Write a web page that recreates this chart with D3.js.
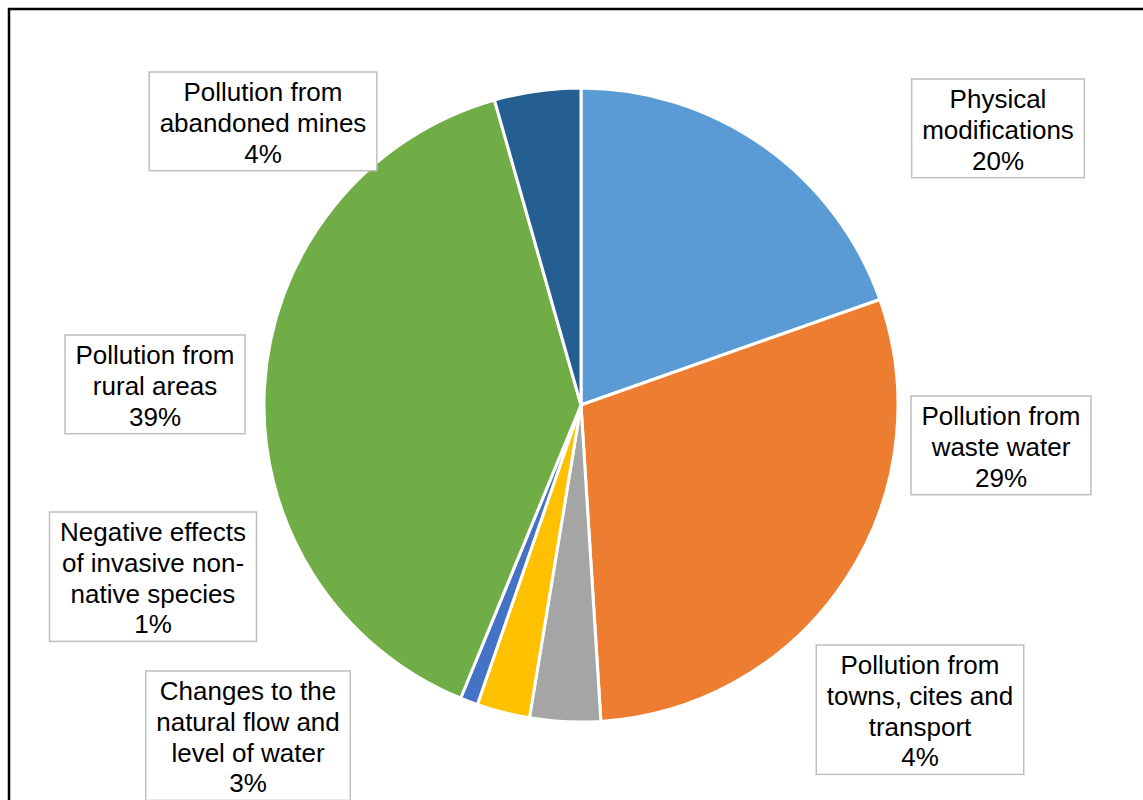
<!DOCTYPE html>
<html>
<head>
<meta charset="utf-8">
<script src="https://cdn.jsdelivr.net/npm/d3@7"></script>
<style>
  html, body { margin: 0; padding: 0; background: #fff; }
  svg { display: block; }
  text { font-family: "Liberation Sans", Arial, sans-serif; fill: #000; }
</style>
</head>
<body>
<script>
// Pressures on water bodies: share of each reason for not achieving good status
const categories = [
  "Physical modifications",
  "Pollution from waste water",
  "Pollution from towns, cites and transport",
  "Changes to the natural flow and level of water",
  "Negative effects of invasive non-native species",
  "Pollution from rural areas",
  "Pollution from abandoned mines"
];
const shares = [19.6, 29.4, 3.6, 2.7, 0.9, 39.4, 4.4];

// Wrapped label text for each category
const labelLines = [
  ["Physical", "modifications"],
  ["Pollution from", "waste water"],
  ["Pollution from", "towns, cites and", "transport"],
  ["Changes to the", "natural flow and", "level of water"],
  ["Negative effects", "of invasive non-", "native species"],
  ["Pollution from", "rural areas"],
  ["Pollution from", "abandoned mines"]
];

const colors = ["#5B9BD5", "#ED7D31", "#A5A5A5", "#FFC000", "#4472C4", "#70AD47", "#255E91"];

// Label box placement: [centre x, top y]
const labelPlacement = [
  [998, 79], [1001, 396], [920, 645], [248, 671], [153, 512], [155, 335], [263, 72]
];

const W = 1143, H = 800;
const cx = 581, cy = 405, radius = 317;
const fontSize = 26, lineH = 30.7, padX = 10.5, padTop = 29.3, padBottom = 8;

const svg = d3.select("body").append("svg").attr("width", W).attr("height", H);

svg.append("rect").attr("width", W).attr("height", H).attr("fill", "#fff");

// Chart frame
svg.append("rect")
  .attr("x", 9).attr("y", 9)
  .attr("width", W + 20).attr("height", H + 20)
  .attr("fill", "none").attr("stroke", "#000").attr("stroke-width", 2.5);

const total = d3.sum(shares);
const data = categories.map((c, i) => ({ name: c, value: shares[i], i }));

const pie = d3.pie().value(d => d.value).sort(null);
const arc = d3.arc().innerRadius(0).outerRadius(radius);

const g = svg.append("g").attr("transform", `translate(${cx},${cy})`);
g.selectAll("path")
  .data(pie(data))
  .join("path")
  .attr("d", arc)
  .attr("fill", d => colors[d.data.i])
  .attr("stroke", "#fff")
  .attr("stroke-width", 3)
  .attr("stroke-linejoin", "round");

// Data labels
const pct = v => Math.round(v / total * 100) + "%";
data.forEach((d, i) => {
  const lines = labelLines[i].concat([pct(d.value)]);
  const [lx, top] = labelPlacement[i];
  const lg = svg.append("g");
  const box = lg.append("rect");
  const txt = lg.append("text")
    .attr("text-anchor", "middle")
    .attr("font-size", fontSize);
  lines.forEach((ln, k) => {
    txt.append("tspan")
      .attr("x", lx)
      .attr("y", top + padTop + k * lineH)
      .text(ln);
  });
  let maxW = 0;
  txt.selectAll("tspan").each(function () {
    maxW = Math.max(maxW, this.getComputedTextLength());
  });
  const bw = maxW + 2 * padX;
  const bh = padTop + (lines.length - 1) * lineH + padBottom;
  box.attr("x", lx - bw / 2).attr("y", top)
    .attr("width", bw).attr("height", bh)
    .attr("fill", "#fff")
    .attr("stroke", "#BFBFBF")
    .attr("stroke-width", 1.5);
});
</script>
</body>
</html>
